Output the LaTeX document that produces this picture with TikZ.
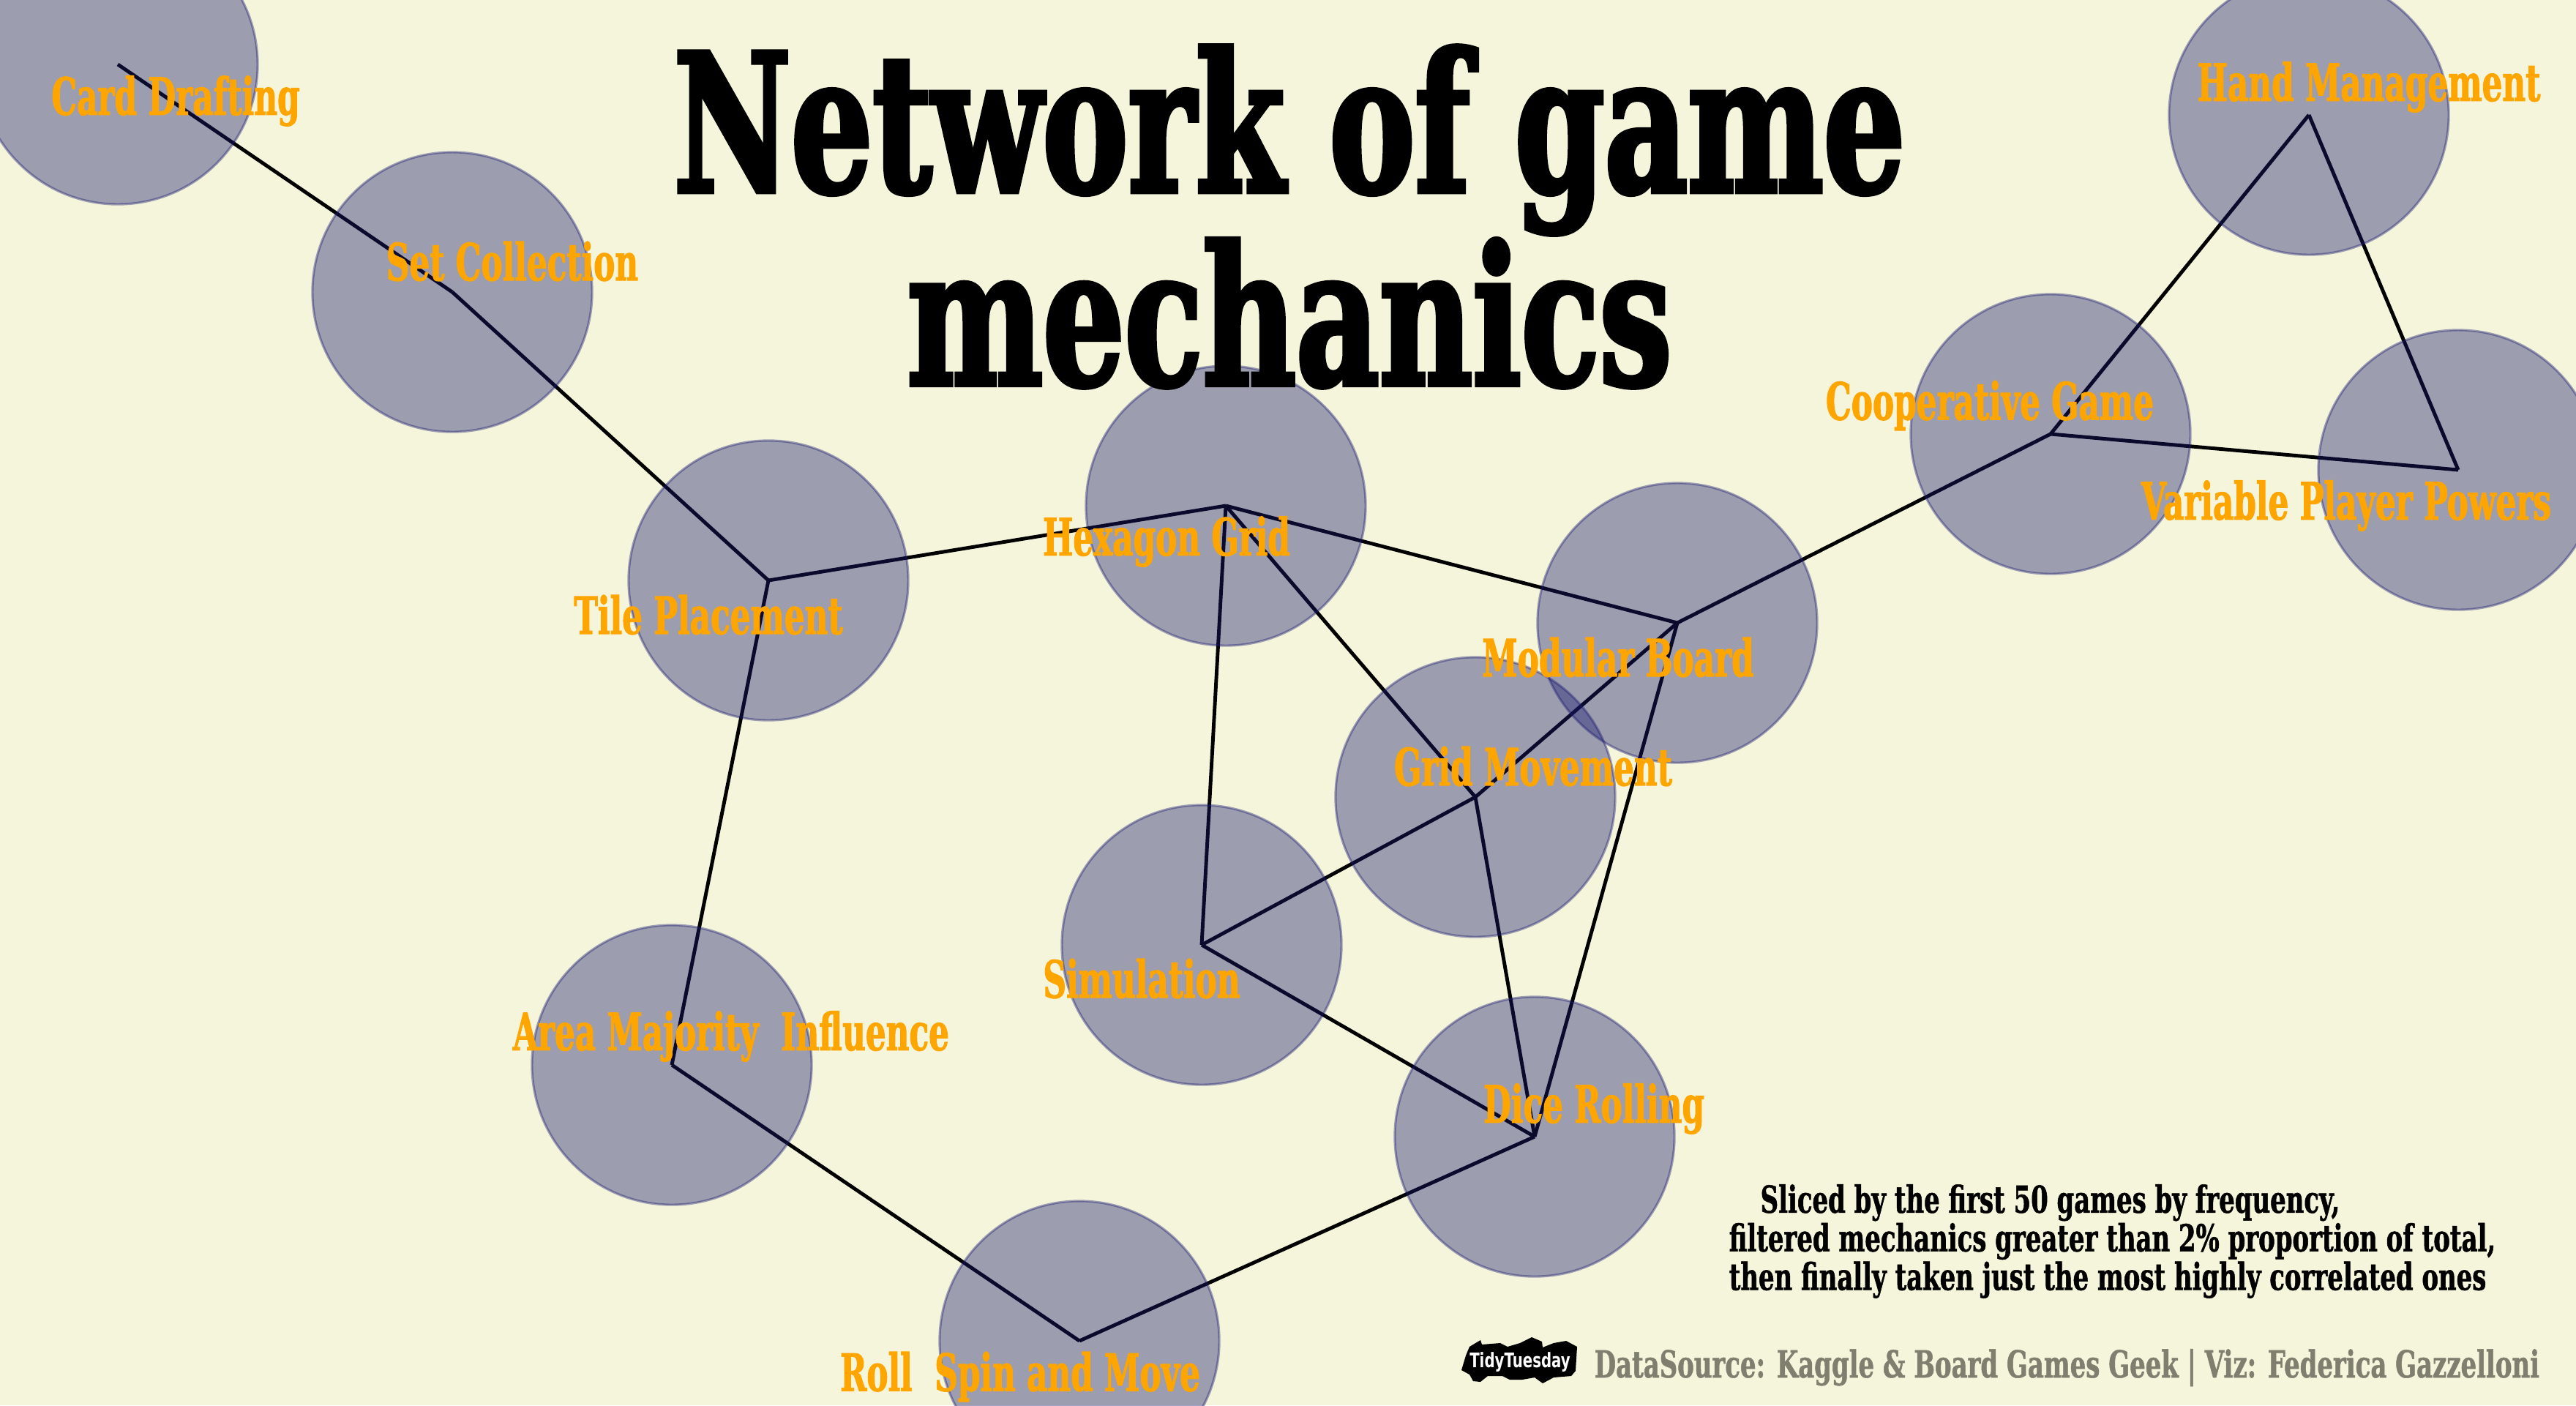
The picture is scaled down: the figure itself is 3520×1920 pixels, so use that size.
\documentclass[tikz,border=0pt]{standalone}
\usepackage{fontspec}
\newfontfamily\titlefont[FakeStretch=0.665,FakeBold=2.2]{DejaVu Serif}
\newfontfamily\mechfont[FakeStretch=0.622,FakeBold=1.4]{DejaVu Serif}
\newfontfamily\subfont[FakeStretch=0.665,FakeBold=1]{DejaVu Serif}
\newfontfamily\logofont[FakeStretch=0.72]{DejaVu Sans}
\definecolor{pagebg}{HTML}{F5F5DC}
\definecolor{navy}{HTML}{191970}
\definecolor{lab}{HTML}{FFA500}
\definecolor{cap}{HTML}{7F7F70}
\pgfdeclarelayer{bgl}
\pgfdeclarelayer{edgel}
\pgfsetlayers{bgl,edgel,main}
\tikzset{
  mech/.style={circle,minimum size=3.82cm,inner sep=0pt,fill=navy,draw=navy,fill opacity=.4,draw opacity=.4,line width=.9pt},
  lbl/.style={text=lab,inner sep=0pt,font=\mechfont\bfseries\fontsize{20}{22}\selectfont},
  edge/.style={draw=black,line width=1.4pt},
}
\begin{document}
\begin{tikzpicture}[x=0.01cm,y=-0.01cm]
\useasboundingbox (0,0) rectangle (3520,1920);
\begin{pgfonlayer}{bgl}
\fill[pagebg] (0,0) rectangle (3520,1920);
\end{pgfonlayer}
\clip (0,0) rectangle (3520,1920);
\node[mech] (card) at (161,88) {};
\node[mech] (set) at (618,399) {};
\node[mech] (tile) at (1050,793) {};
\node[mech] (hex) at (1675,691) {};
\node[mech] (mod) at (2292,851) {};
\node[mech] (grid) at (2016,1089) {};
\node[mech] (sim) at (1642,1291) {};
\node[mech] (area) at (918,1455) {};
\node[mech] (roll) at (1475,1832) {};
\node[mech] (dice) at (2097,1553) {};
\node[mech] (coop) at (2802,593) {};
\node[mech] (hand) at (3155,157) {};
\node[mech] (var) at (3359,642) {};
\begin{pgfonlayer}{edgel}
\foreach \a/\b in {card/set,set/tile,tile/hex,hex/mod,hex/grid,hex/sim,tile/area,area/roll,roll/dice,dice/sim,dice/grid,dice/mod,grid/mod,grid/sim,mod/coop,coop/hand,hand/var,var/coop}
  \draw[edge] (\a.center) -- (\b.center);
\end{pgfonlayer}
\node[lbl] (lcard) at (240,138) {Card Drafting};
\node[lbl] (lset) at (700,357) {Set Collection};
\node[lbl] (ltile) at (968,840) {Tile Placement};
\node[lbl] (lhex) at (1594,740) {Hexagon Grid};
\node[lbl] (lmod) at (2211,898) {Modular Board};
\node[lbl] (lgrid) at (2095,1047) {Grid Movement};
\node[lbl] (lsim) at (1560,1337) {Simulation};
\node[lbl] (larea) at (999,1416) {Area Majority\ \ Influence};
\node[lbl] (lroll) at (1394,1881) {Roll\ \ Spin and Move};
\node[lbl] (ldice) at (2178,1515) {Dice Rolling};
\node[lbl] (lcoop) at (2719,554) {Cooperative Game};
\node[lbl] (lhand) at (3237,119) {Hand Management};
\node[lbl] (lvar) at (3206,691) {Variable Player Powers};
\node[inner sep=0pt,align=center,font=\titlefont\bfseries\fontsize{75}{75}\selectfont] (title) at (1762,296) {Network of game\\mechanics};
\node[inner sep=0pt,align=left,anchor=west,font=\subfont\bfseries\fontsize{14.5}{15}\selectfont] (note) at (2362,1696) {\hspace{12.2pt}Sliced by the first 50 games by frequency,\\filtered mechanics greater than 2\% proportion of total,\\then finally taken just the most highly correlated ones};
\node[inner sep=0pt,anchor=base west,text=cap,font=\subfont\bfseries\fontsize{14.5}{15}\selectfont] (credit) at (2178,1882) {DataSource: Kaggle \& Board Games Geek | Viz: Federica Gazzelloni};
\fill[black] (1997,1872)--(2003,1852)--(2008,1840)--(2023,1831)--(2025,1837)--(2050,1835)--(2060,1840)--(2077,1835)--(2093,1827)--(2107,1833)--(2108,1841)--(2123,1835)--(2140,1832)--(2155,1840)--(2153,1873)--(2147,1880)--(2123,1882)--(2108,1890)--(2097,1882)--(2080,1885)--(2063,1885)--(2053,1880)--(2033,1880)--(2023,1888)--(2013,1887)--(2008,1878)--cycle;
\node[inner sep=0pt,text=white,font=\logofont\bfseries\fontsize{7.8}{9}\selectfont] (logo) at (2077,1861) {TidyTuesday};
\end{tikzpicture}
\end{document}
